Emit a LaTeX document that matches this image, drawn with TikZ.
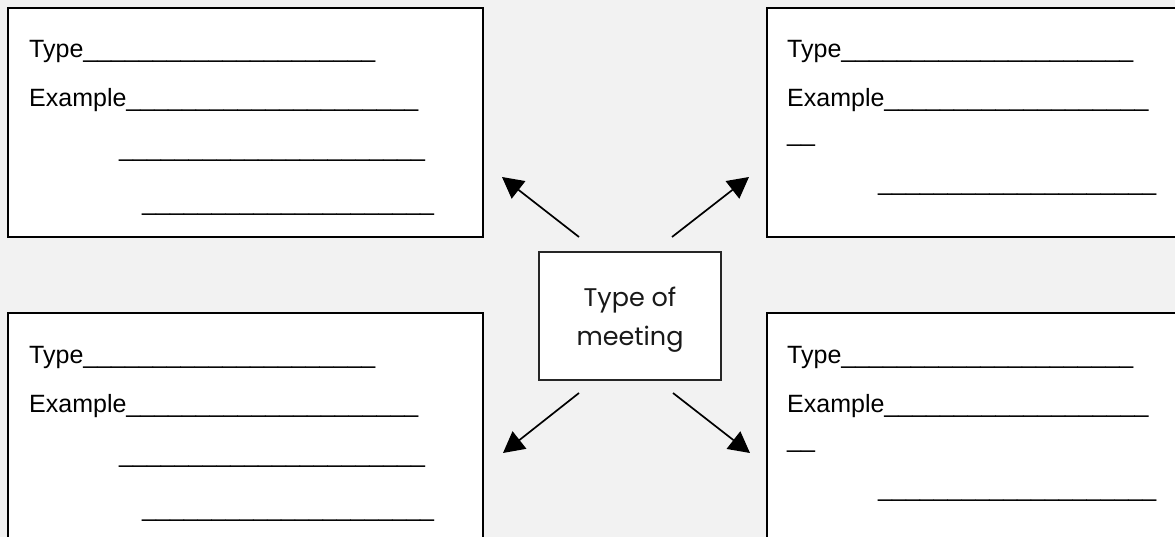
\documentclass[tikz,border=0pt]{standalone}
\usepackage{fontspec}
\setmainfont{Liberation Sans}
\newfontfamily\centrefont{Poppins}
\usetikzlibrary{arrows.meta}

\tikzset{
  panel/.style={draw=black, line width=2pt, fill=white},
  hub/.style={draw=black!85, line width=1.3pt, fill=white},
  entry/.style={anchor=base west, inner sep=0pt, font=\fontsize{25}{30}\selectfont, text=black},
  hubtext/.style={anchor=base, inner sep=0pt, text=black!90, font=\centrefont\fontsize{25.5}{30}\selectfont},
  pointer/.style={line width=1.7pt, -{Triangle[length=21pt,width=22pt]}},
}
\newcommand{\blanks}[1]{\foreach \k in {1,...,#1}{\_}}

\begin{document}
\begin{tikzpicture}[x=1pt, y=-1pt]
  \useasboundingbox (0,0) rectangle (1175,537);
  \fill[black!5] (0,0) rectangle (1175,537);
  \clip (0,0) rectangle (1175,537);

  % four answer panels
  \draw[panel] (8,8) rectangle (483,237);
  \draw[panel] (767,8) rectangle (1190,237);
  \draw[panel] (8,313) rectangle (483,550);
  \draw[panel] (767,313) rectangle (1190,550);

  % upper left panel
  \node[entry] (tlA) at (29,58)  {Type\blanks{21}};
  \node[entry] (tlB) at (29,107) {Example\blanks{21}};
  \node[entry] (tlC) at (119,157) {\blanks{22}};
  \node[entry] (tlD) at (142,211) {\blanks{21}};

  % upper right panel
  \node[entry] (trA) at (787,58)  {Type\blanks{21}};
  \node[entry] (trB) at (787,107) {Example\blanks{19}};
  \node[entry] (trC) at (787,142) {\blanks{2}};
  \node[entry] (trD) at (878,191) {\blanks{20}};

  % lower left panel
  \node[entry] (blA) at (29,363)  {Type\blanks{21}};
  \node[entry] (blB) at (29,412)  {Example\blanks{21}};
  \node[entry] (blC) at (119,462) {\blanks{22}};
  \node[entry] (blD) at (142,516) {\blanks{21}};

  % lower right panel
  \node[entry] (brA) at (787,363) {Type\blanks{21}};
  \node[entry] (brB) at (787,412) {Example\blanks{19}};
  \node[entry] (brC) at (787,447) {\blanks{2}};
  \node[entry] (brD) at (878,496) {\blanks{20}};

  % central box
  \draw[hub] (539,252) rectangle (721,380);
  \node[hubtext] (hubA) at (630,306) {Type of};
  \node[hubtext] (hubB) at (630,345) {meeting};

  % arrow ends
  \coordinate (ulT) at (579,237); \coordinate (ulH) at (502,177);
  \coordinate (urT) at (672,237); \coordinate (urH) at (749,177);
  \coordinate (llT) at (579,393); \coordinate (llH) at (503,453);
  \coordinate (lrT) at (673,393); \coordinate (lrH) at (750,453);

  \draw[pointer] (ulT) -- (ulH);
  \draw[pointer] (urT) -- (urH);
  \draw[pointer] (llT) -- (llH);
  \draw[pointer] (lrT) -- (lrH);
\end{tikzpicture}
\end{document}
